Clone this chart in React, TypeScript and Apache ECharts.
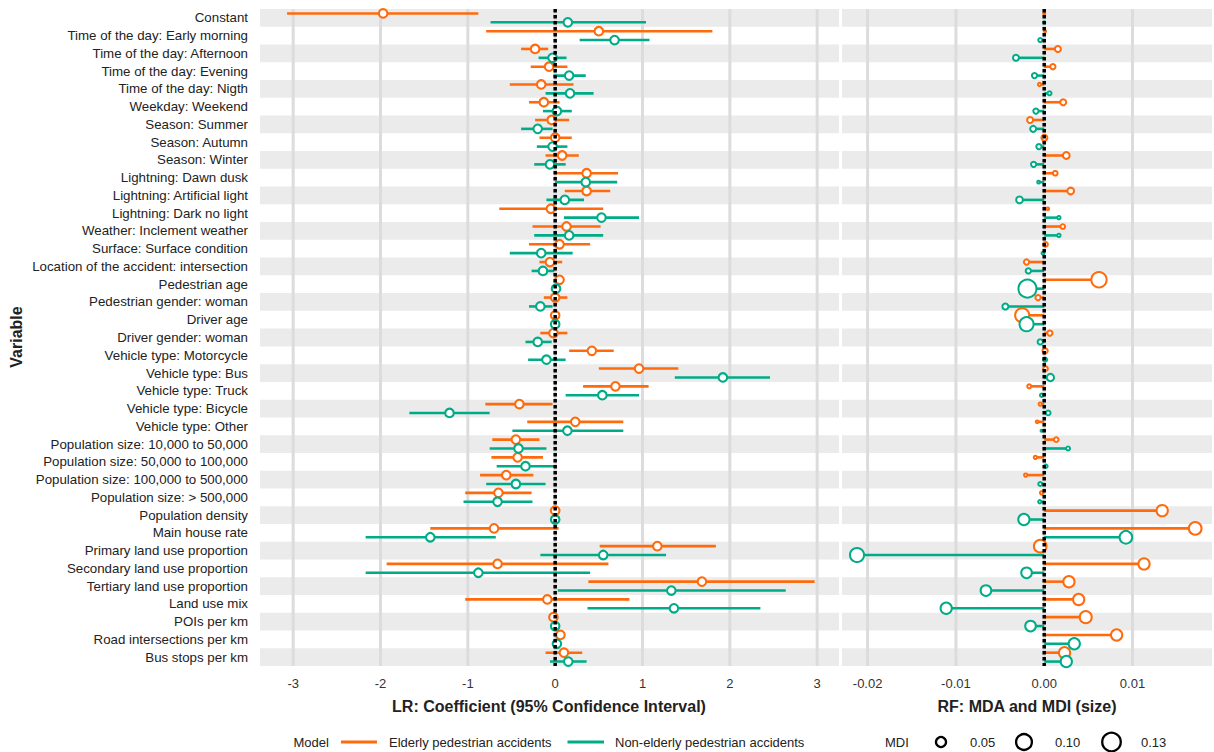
import React, { useEffect, useRef } from 'react';
import * as echarts from 'echarts';

const VARIABLES = [
  'Constant',
  'Time of the day: Early morning',
  'Time of the day: Afternoon',
  'Time of the day: Evening',
  'Time of the day: Nigth',
  'Weekday: Weekend',
  'Season: Summer',
  'Season: Autumn',
  'Season: Winter',
  'Lightning: Dawn dusk',
  'Lightning: Artificial light',
  'Lightning: Dark no light',
  'Weather: Inclement weather',
  'Surface: Surface condition',
  'Location of the accident: intersection',
  'Pedestrian age',
  'Pedestrian gender: woman',
  'Driver age',
  'Driver gender: woman',
  'Vehicle type: Motorcycle',
  'Vehicle type: Bus',
  'Vehicle type: Truck',
  'Vehicle type: Bicycle',
  'Vehicle type: Other',
  'Population size: 10,000 to 50,000',
  'Population size: 50,000 to 100,000',
  'Population size: 100,000 to 500,000',
  'Population size: > 500,000',
  'Population density',
  'Main house rate',
  'Primary land use proportion',
  'Secondary land use proportion',
  'Tertiary land use proportion',
  'Land use mix',
  'POIs per km',
  'Road intersections per km',
  'Bus stops per km',
];

// LR coefficients (elderly pedestrian accidents)
const LR_ELDERLY_EST = [-1.97, 0.5, -0.23, -0.07, -0.16, -0.13, -0.04, 0.0, 0.08, 0.36, 0.36, -0.05, 0.13, 0.05, -0.06, 0.05, 0.0, 0.0, -0.02, 0.42, 0.96, 0.69, -0.41, 0.23, -0.45, -0.43, -0.56, -0.65, 0.0, -0.7, 1.17, -0.66, 1.68, -0.09, -0.02, 0.06, 0.1];
const LR_ELDERLY_LO = [-3.07, -0.79, -0.39, -0.28, -0.52, -0.3, -0.23, -0.18, -0.11, -0.01, 0.11, -0.64, -0.26, -0.3, -0.18, 0.03, -0.13, -0.01, -0.17, 0.16, 0.5, 0.32, -0.8, -0.32, -0.72, -0.73, -0.86, -1.03, -0.01, -1.43, 0.51, -1.93, 0.38, -1.03, -0.04, 0.05, -0.11];
const LR_ELDERLY_HI = [-0.88, 1.8, -0.08, 0.14, 0.21, 0.05, 0.16, 0.19, 0.27, 0.72, 0.63, 0.55, 0.52, 0.4, 0.08, 0.07, 0.14, 0.01, 0.14, 0.67, 1.41, 1.07, -0.03, 0.78, -0.18, -0.14, -0.25, -0.27, 0.01, 0.04, 1.84, 0.61, 2.97, 0.85, 0.0, 0.07, 0.31];

// LR coefficients (non-elderly pedestrian accidents)
const LR_NONELDERLY_EST = [0.145, 0.68, -0.03, 0.16, 0.17, 0.02, -0.2, -0.03, -0.06, 0.35, 0.11, 0.53, 0.16, -0.16, -0.14, 0.01, -0.17, 0.0, -0.2, -0.1, 1.92, 0.54, -1.21, 0.14, -0.42, -0.34, -0.45, -0.66, 0.0, -1.43, 0.55, -0.88, 1.33, 1.36, 0.0, 0.02, 0.15];
const LR_NONELDERLY_LO = [-0.74, 0.28, -0.19, -0.02, -0.11, -0.14, -0.39, -0.21, -0.24, 0.0, -0.1, 0.1, -0.24, -0.52, -0.27, 0.0, -0.3, -0.01, -0.34, -0.31, 1.37, 0.12, -1.67, -0.49, -0.75, -0.67, -0.79, -1.05, -0.01, -2.17, -0.17, -2.17, 0.03, 0.37, -0.01, 0.01, -0.06];
const LR_NONELDERLY_HI = [1.04, 1.08, 0.13, 0.35, 0.44, 0.19, -0.03, 0.14, 0.12, 0.71, 0.33, 0.96, 0.55, 0.2, -0.01, 0.02, -0.03, 0.01, -0.04, 0.12, 2.46, 0.96, -0.75, 0.78, -0.1, 0.0, -0.11, -0.26, 0.01, -0.68, 1.27, 0.4, 2.64, 2.35, 0.01, 0.03, 0.36];

// RF: MDA (position) and MDI (size)
const RF_ELDERLY_MDA = [0.0, 0.0001, 0.00155, 0.00098, -0.00053, 0.00215, -0.0016, 0.00002, 0.0025, 0.00125, 0.003, 0.0004, 0.0021, 0.00015, -0.002, 0.0062, -0.0007, -0.0025, 0.00064, 0.0001, 0.00015, -0.0017, -0.00045, -0.0008, 0.00136, -0.001, -0.0021, -0.0003, 0.01336, 0.0171, -0.00045, 0.0113, 0.0028, 0.0039, 0.0047, 0.0082, 0.0023];
const RF_ELDERLY_MDI = [0.003, 0.003, 0.0235, 0.02, 0.012, 0.0235, 0.0235, 0.0235, 0.027, 0.0174, 0.027, 0.0099, 0.0174, 0.0174, 0.02, 0.092, 0.02, 0.08, 0.02, 0.02, 0.0174, 0.0146, 0.0121, 0.0099, 0.0174, 0.0121, 0.0121, 0.0121, 0.057, 0.068, 0.068, 0.057, 0.057, 0.057, 0.0625, 0.057, 0.057];
const RF_NONELDERLY_MDA = [0.0, -0.00045, -0.0032, -0.0011, 0.0006, -0.00094, -0.00125, -0.0006, -0.0012, -0.00064, -0.0028, 0.00166, 0.00166, -0.00015, -0.0018, -0.0019, -0.0044, -0.002, -0.00045, 0.0001, 0.0007, -0.0003, 0.00045, -0.0003, 0.0027, 0.0002, -0.00045, -0.0005, -0.0023, 0.00925, -0.0212, -0.002, -0.0066, -0.0111, -0.00155, 0.0034, 0.0025];
const RF_NONELDERLY_MDI = [0.003, 0.0146, 0.0235, 0.02, 0.0146, 0.02, 0.0235, 0.02, 0.02, 0.0099, 0.027, 0.0121, 0.0121, 0.0099, 0.02, 0.12, 0.0235, 0.08, 0.02, 0.0146, 0.0305, 0.0121, 0.0174, 0.0079, 0.0146, 0.0121, 0.0146, 0.0121, 0.057, 0.068, 0.08, 0.052, 0.052, 0.057, 0.052, 0.057, 0.057];

const LR_TICKS = [-3, -2, -1, 0, 1, 2, 3];
const RF_TICKS = [-0.02, -0.01, 0, 0.01];
const LEGEND_MDI = [0.05, 0.1, 0.13];
const MODELS = ['Elderly pedestrian accidents', 'Non-elderly pedestrian accidents'];

const ORANGE = '#FF6A0D';
const GREEN = '#00AC87';
const BAND = '#EBEBEB';
const GRIDLINE = '#DCDCDC';
const FONT = '"Liberation Sans", Arial, Helvetica, sans-serif';
const TEXT = '#222222';

// radius of an MDI circle (px), given the stroke width
const mdiRadius = (mdi: number, lw: number) => {
  const outer = 62 * Math.sqrt(mdi) - 1.5;
  return Math.max(1, (outer - lw) / 2);
};

function bandsSeries(gridIdx: number) {
  const data: number[][] = [];
  for (let i = 0; i < VARIABLES.length; i += 2) data.push([0, i]);
  return {
    type: 'custom',
    xAxisIndex: gridIdx,
    yAxisIndex: gridIdx,
    z: 1,
    silent: true,
    data,
    encode: { x: 0, y: 1 },
    renderItem: (params: any, api: any) => {
      const cs = params.coordSys;
      const c = api.coord([0, api.value(1)]);
      const h = api.size([0, 1])[1];
      return {
        type: 'rect',
        shape: { x: cs.x, y: c[1] - h / 2, width: cs.width, height: h },
        style: { fill: BAND },
      };
    },
  };
}

function gridLineSeries(gridIdx: number, ticks: number[]) {
  return {
    type: 'custom',
    xAxisIndex: gridIdx,
    yAxisIndex: gridIdx,
    z: 2,
    silent: true,
    data: ticks.map((t) => [t, 0]),
    encode: { x: 0, y: 1 },
    renderItem: (params: any, api: any) => {
      const cs = params.coordSys;
      const p = api.coord([api.value(0), 0]);
      return {
        type: 'line',
        shape: { x1: p[0], y1: cs.y, x2: p[0], y2: cs.y + cs.height },
        style: { stroke: GRIDLINE, lineWidth: 3 },
      };
    },
  };
}

function zeroLineSeries(gridIdx: number) {
  return {
    type: 'custom',
    xAxisIndex: gridIdx,
    yAxisIndex: gridIdx,
    z: 5,
    silent: true,
    data: [[0, 0]],
    encode: { x: 0, y: 1 },
    renderItem: (params: any, api: any) => {
      const cs = params.coordSys;
      const p = api.coord([0, 0]);
      return {
        type: 'line',
        shape: { x1: p[0], y1: cs.y, x2: p[0], y2: cs.y + cs.height },
        style: { stroke: '#000', lineWidth: 3.5, lineDash: [3.5, 2.5], lineCap: 'butt' },
      };
    },
  };
}

function ciSeries(name: string, color: string, est: number[], lo: number[], hi: number[], offset: number) {
  return {
    type: 'custom',
    name,
    xAxisIndex: 0,
    yAxisIndex: 0,
    z: 3,
    data: est.map((e, i) => [lo[i], hi[i], e, i]),
    encode: { x: [0, 1, 2], y: 3 },
    renderItem: (params: any, api: any) => {
      const idx = api.value(3);
      const p1 = api.coord([api.value(0), idx]);
      const p2 = api.coord([api.value(1), idx]);
      const pc = api.coord([api.value(2), idx]);
      const dy = offset * api.size([0, 1])[1];
      return {
        type: 'group',
        children: [
          {
            type: 'line',
            shape: { x1: p1[0], y1: p1[1] + dy, x2: p2[0], y2: p2[1] + dy },
            style: { stroke: color, lineWidth: 2.6 },
          },
          {
            type: 'circle',
            shape: { cx: pc[0], cy: pc[1] + dy, r: 4.3 },
            style: { fill: '#fff', stroke: color, lineWidth: 2.1 },
          },
        ],
      };
    },
  };
}

function rfSeries(name: string, color: string, mda: number[], mdi: number[], offset: number) {
  return {
    type: 'custom',
    name,
    xAxisIndex: 1,
    yAxisIndex: 1,
    z: 3,
    data: mda.map((v, i) => [v, mdi[i], i]),
    encode: { x: 0, y: 2 },
    renderItem: (params: any, api: any) => {
      const idx = api.value(2);
      const p0 = api.coord([0, idx]);
      const p = api.coord([api.value(0), idx]);
      const dy = offset * api.size([0, 1])[1];
      return {
        type: 'group',
        children: [
          {
            type: 'line',
            shape: { x1: p0[0], y1: p0[1] + dy, x2: p[0], y2: p[1] + dy },
            style: { stroke: color, lineWidth: 2.6 },
          },
          {
            type: 'circle',
            shape: { cx: p[0], cy: p[1] + dy, r: mdiRadius(api.value(1), 2) },
            style: { fill: '#fff', stroke: color, lineWidth: 2 },
          },
        ],
      };
    },
  };
}

export default function App() {
  const ref = useRef<HTMLDivElement>(null);

  useEffect(() => {
    if (!ref.current) return;
    const chart = echarts.init(ref.current, undefined, { renderer: 'svg' });

    const legendY = 742;
    const legendCircleX = [941, 1024, 1111.5];
    const legendLabelX = [970, 1055, 1141];

    const graphic: any[] = [
      {
        type: 'text',
        x: 549, y: 706,
        style: { text: 'LR: Coefficient (95% Confidence Interval)', font: `bold 16px ${FONT}`, fill: TEXT, align: 'center', verticalAlign: 'middle' },
      },
      {
        type: 'text',
        x: 1027, y: 706,
        style: { text: 'RF: MDA and MDI (size)', font: `bold 16px ${FONT}`, fill: TEXT, align: 'center', verticalAlign: 'middle' },
      },
      {
        type: 'text',
        x: 16, y: 337, rotation: Math.PI / 2,
        style: { text: 'Variable', font: `bold 16px ${FONT}`, fill: TEXT, align: 'center', verticalAlign: 'middle' },
      },
      { type: 'text', x: 293.5, y: legendY, style: { text: 'Model', font: `13px ${FONT}`, fill: TEXT, align: 'left', verticalAlign: 'middle' } },
      { type: 'line', shape: { x1: 341, y1: legendY, x2: 377, y2: legendY }, style: { stroke: ORANGE, lineWidth: 3 } },
      { type: 'text', x: 389, y: legendY, style: { text: MODELS[0], font: `13px ${FONT}`, fill: TEXT, align: 'left', verticalAlign: 'middle' } },
      { type: 'line', shape: { x1: 567.5, y1: legendY, x2: 604, y2: legendY }, style: { stroke: GREEN, lineWidth: 3 } },
      { type: 'text', x: 615, y: legendY, style: { text: MODELS[1], font: `13px ${FONT}`, fill: TEXT, align: 'left', verticalAlign: 'middle' } },
      { type: 'text', x: 885, y: legendY, style: { text: 'MDI', font: `13px ${FONT}`, fill: TEXT, align: 'left', verticalAlign: 'middle' } },
    ];
    LEGEND_MDI.forEach((m, i) => {
      graphic.push({
        type: 'circle',
        shape: { cx: legendCircleX[i], cy: legendY, r: mdiRadius(m, 2.3) },
        style: { fill: '#fff', stroke: '#000', lineWidth: 2.3 },
      });
      graphic.push({
        type: 'text', x: legendLabelX[i], y: legendY,
        style: { text: m.toFixed(2), font: `13px ${FONT}`, fill: TEXT, align: 'left', verticalAlign: 'middle' },
      });
    });

    const axisLabelCommon = { fontSize: 13, color: '#333', fontFamily: FONT, margin: 11 };

    const option: any = {
      animation: false,
      backgroundColor: '#fff',
      textStyle: { fontFamily: FONT },
      grid: [
        { left: 260, top: 9, width: 579, height: 657 },
        { left: 842, top: 9, width: 370, height: 657 },
      ],
      xAxis: [
        {
          type: 'value', gridIndex: 0, min: -3.38, max: 3.25,
          axisLine: { show: false }, splitLine: { show: false },
          axisTick: { show: false, customValues: LR_TICKS },
          axisLabel: { ...axisLabelCommon, customValues: LR_TICKS, formatter: (v: number) => String(v) },
        },
        {
          type: 'value', gridIndex: 1, min: -0.0229, max: 0.019,
          axisLine: { show: false }, splitLine: { show: false },
          axisTick: { show: false, customValues: RF_TICKS },
          axisLabel: { ...axisLabelCommon, customValues: RF_TICKS, formatter: (v: number) => v.toFixed(2) },
        },
      ],
      yAxis: [
        {
          type: 'category', gridIndex: 0, data: VARIABLES, inverse: true,
          axisLine: { show: false }, axisTick: { show: false }, splitLine: { show: false },
          axisLabel: { fontSize: 13.3, color: '#222', fontFamily: FONT, margin: 12, interval: 0 },
        },
        {
          type: 'category', gridIndex: 1, data: VARIABLES, inverse: true,
          axisLine: { show: false }, axisTick: { show: false }, splitLine: { show: false },
          axisLabel: { show: false },
        },
      ],
      series: [
        bandsSeries(0),
        bandsSeries(1),
        gridLineSeries(0, LR_TICKS),
        gridLineSeries(1, RF_TICKS),
        ciSeries(MODELS[0], ORANGE, LR_ELDERLY_EST, LR_ELDERLY_LO, LR_ELDERLY_HI, -0.25),
        ciSeries(MODELS[1], GREEN, LR_NONELDERLY_EST, LR_NONELDERLY_LO, LR_NONELDERLY_HI, 0.25),
        rfSeries(MODELS[0], ORANGE, RF_ELDERLY_MDA, RF_ELDERLY_MDI, -0.25),
        rfSeries(MODELS[1], GREEN, RF_NONELDERLY_MDA, RF_NONELDERLY_MDI, 0.25),
        zeroLineSeries(0),
        zeroLineSeries(1),
      ],
      graphic,
    };

    chart.setOption(option);
    return () => chart.dispose();
  }, []);

  return (
    <div
      ref={ref}
      style={{ position: 'absolute', left: 0, top: 0, width: 1214, height: 752, background: '#fff' }}
    />
  );
}
